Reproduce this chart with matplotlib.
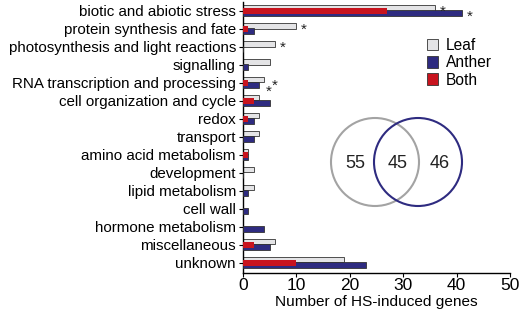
import numpy as np
import matplotlib
matplotlib.use("Agg")
import matplotlib.pyplot as plt
from matplotlib.patches import Circle, Patch

plt.rcParams['font.family'] = ['Liberation Sans', 'DejaVu Sans']

categories = ['biotic and abiotic stress', 'protein synthesis and fate',
              'photosynthesis and light reactions', 'signalling',
              'RNA transcription and processing', 'cell organization and cycle',
              'redox', 'transport', 'amino acid metabolism', 'development',
              'lipid metabolism', 'cell wall', 'hormone metabolism',
              'miscellaneous', 'unknown']
leaf = [36, 10, 6, 5, 4, 3, 3, 3, 1, 2, 2, 0, 0, 6, 19]
anther = [41, 2, 0, 1, 3, 5, 2, 2, 1, 0, 1, 1, 4, 5, 23]
both = [27, 1, 0, 0, 1, 2, 1, 0, 1, 0, 0, 0, 0, 2, 10]

# significant enrichment: (category index, series)
stars = [(0, 'leaf'), (0, 'anther'), (1, 'leaf'), (2, 'leaf'),
         (4, 'leaf'), (4, 'anther')]

venn_counts = [55, 45, 46]

c_leaf = '#e4e4e6'
c_anther = '#2e2b80'
c_both = '#c8141e'
c_edge = '#333333'

fig = plt.figure(figsize=(5.2, 3.14), dpi=100)
ax = fig.add_axes([0.467, 0.131, 0.514, 0.863])

y = np.arange(len(categories))
ax.barh(y - 0.17, leaf, height=0.3, color=c_leaf, edgecolor=c_edge, linewidth=0.6, zorder=2)
ax.barh(y + 0.12, anther, height=0.34, color=c_anther, edgecolor=c_edge, linewidth=0.6, zorder=3)
ax.barh(y, both, height=0.36, color=c_both, edgecolor='none', zorder=4)

vals = {'leaf': leaf, 'anther': anther}
offs = {'leaf': -0.17, 'anther': 0.12}
for i, s in stars:
    v = vals[s][i]
    dx = 1.4
    dy = offs[s]
    if i == 4 and s == 'anther':
        dx, dy = 1.8, 0.3
    if i == 4 and s == 'leaf':
        dx, dy = 1.9, -0.05
    ax.text(v + dx, i + dy + 0.22, '*', ha='center', va='center', fontsize=11, color='#222222')

ax.set_yticks(y)
ax.set_yticklabels(categories, fontsize=10.9)
ax.set_ylim(14.56, -0.5)
ax.set_xlim(0, 50)
ax.set_xticks([0, 10, 20, 30, 40, 50])
ax.tick_params(axis='x', labelsize=12.5, length=3, width=0.8, pad=1)
ax.tick_params(axis='y', length=3, width=0.8, pad=2)
ax.set_xlabel('Number of HS-induced genes', fontsize=11.1, labelpad=1)
for sp in ['top', 'right']:
    ax.spines[sp].set_visible(False)
for sp in ['left', 'bottom']:
    ax.spines[sp].set_linewidth(1.0)

handles = [Patch(facecolor=c_leaf, edgecolor=c_edge, linewidth=0.6, label='Leaf'),
           Patch(facecolor=c_anther, edgecolor=c_edge, linewidth=0.6, label='Anther'),
           Patch(facecolor=c_both, edgecolor=c_edge, linewidth=0.6, label='Both')]
ax.legend(handles=handles, loc='upper left', bbox_to_anchor=(0.665, 0.89), frameon=False,
          fontsize=11.2, handlelength=0.75, handleheight=0.75, handletextpad=0.45,
          labelspacing=0.15, borderaxespad=0)

# venn diagram in pixel-like coordinates
vax = fig.add_axes([0, 0, 1, 1], facecolor='none')
vax.set_xlim(0, 520)
vax.set_ylim(314, 0)
vax.axis('off')
vax.add_patch(Circle((375, 162), 44, fill=False, edgecolor='#a3a3a3', linewidth=1.5))
vax.add_patch(Circle((418, 162), 44, fill=False, edgecolor=c_anther, linewidth=1.5))
for xx, n in zip([355, 398, 440], venn_counts):
    vax.text(xx, 164, str(n), ha='center', va='center', fontsize=13, color='#222222')

fig.savefig('out.png', dpi=100)
